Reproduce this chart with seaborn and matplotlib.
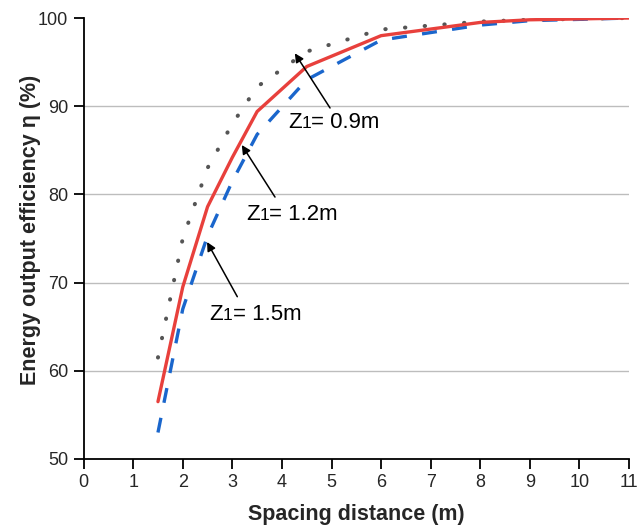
import numpy as np
import pandas as pd
import matplotlib
matplotlib.use("Agg")
import matplotlib.pyplot as plt
import seaborn as sns

# Spacing distance (m) and energy output efficiency (%) for three burial depths
spacing = [1.5, 2.0, 2.5, 3.0, 3.5, 4.5, 6.0, 8.0, 9.0, 11.0]
eta_z09 = [61.5, 75.0, 83.0, 88.0, 92.2, 96.2, 98.7, 99.6, 99.8, 100.0]
eta_z12 = [56.5, 69.5, 78.6, 84.2, 89.4, 94.5, 98.0, 99.5, 99.8, 100.0]
eta_z15 = [53.0, 67.0, 75.3, 81.5, 86.8, 93.0, 97.5, 99.2, 99.7, 100.0]

depth_labels = ["0.9", "1.2", "1.5"]
x_ticks = list(range(0, 12))
y_ticks = [50, 60, 70, 80, 90, 100]

df = pd.DataFrame({
    "spacing": spacing * 3,
    "eta": eta_z09 + eta_z12 + eta_z15,
    "depth": [d for d in depth_labels for _ in spacing],
})

sns.set_theme(style="white")
plt.rcParams["font.family"] = ["Liberation Sans", "DejaVu Sans"]

fig = plt.figure(figsize=(6.38, 5.30), dpi=100)
ax = fig.add_axes([0.131, 0.134, 0.855, 0.832])

for y in [60, 70, 80, 90]:
    ax.axhline(y, color="#bdbdbd", lw=1.0, zorder=0)

styles = {
    "0.9": dict(color="#555555", lw=2.9, ls=(0, (0.1, 4.8)), dash_capstyle="round"),
    "1.2": dict(color="#e8403c", lw=2.4, ls="-"),
    "1.5": dict(color="#1a66cc", lw=2.4, ls=(0, (4.5, 4.6))),
}
for depth in ["0.9", "1.5", "1.2"]:
    sub = df[df["depth"] == depth]
    sns.lineplot(data=sub, x="spacing", y="eta", ax=ax, legend=False,
                 estimator=None, sort=False, **styles[depth])

ax.set_xlim(0, 11)
ax.set_ylim(50, 100)
ax.set_xticks(x_ticks)
ax.set_yticks(y_ticks)
ax.tick_params(axis="both", direction="out", length=7, width=1.3,
               color="black", labelsize=13, pad=4, bottom=True, left=True)
for s in ["top", "right"]:
    ax.spines[s].set_visible(False)
for s in ["left", "bottom"]:
    ax.spines[s].set_color("black")
    ax.spines[s].set_linewidth(1.3)

ax.set_xlabel("Spacing distance (m)", fontsize=15.5, fontweight="bold", labelpad=9)
ax.set_ylabel("Energy output efficiency η (%)", fontsize=15.5, fontweight="bold")
ax.yaxis.set_label_coords(-0.078, 0.52)

# Arrows pointing from each depth label to its curve
arrow = dict(arrowstyle="-|>", color="black", lw=1.1, mutation_scale=13,
             shrinkA=0, shrinkB=0)
arrows = {
    "0.9": ((4.26, 96.0), (4.97, 89.8)),
    "1.2": ((3.19, 85.6), (3.86, 79.7)),
    "1.5": ((2.49, 74.6), (3.10, 68.4)),
}
for depth, (tip, base) in arrows.items():
    ax.annotate("", xy=tip, xytext=base, arrowprops=arrow)

# Labels "Z1= ..." with a smaller 1 after the Z
label_anchor = {"0.9": (4.12, 87.5), "1.2": (3.28, 77.1), "1.5": (2.54, 65.8)}
big, small = 16, 12.5
for depth, xy in label_anchor.items():
    pieces = [("Z", big, 0.0),
              ("1", small, 0.611 * big),
              ("= " + depth + "m", big, 0.611 * big + 0.556 * small)]
    for txt, size, dx in pieces:
        ax.annotate(txt, xy=xy, xytext=(dx, 0), textcoords="offset points",
                    fontsize=size, ha="left", va="baseline", color="black")

fig.savefig("out.png", dpi=100)
